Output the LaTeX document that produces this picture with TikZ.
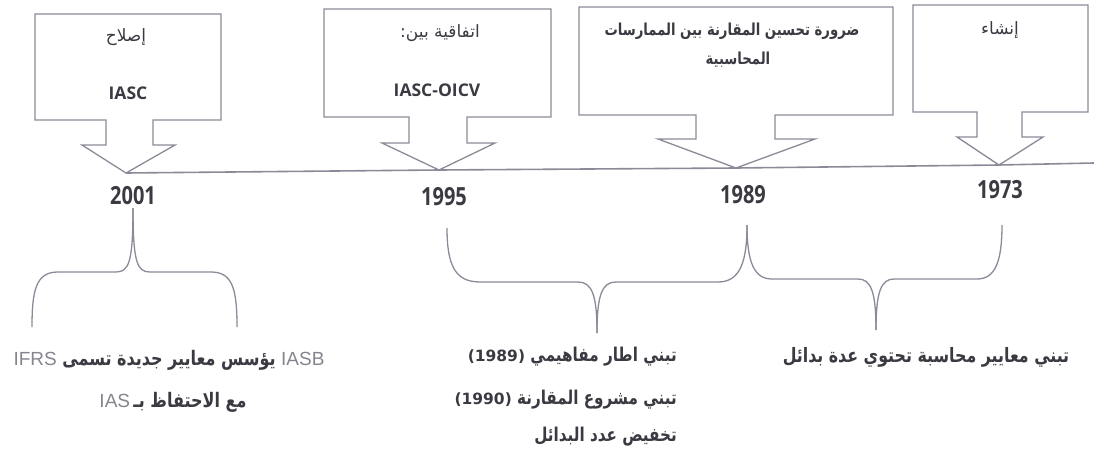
\documentclass[tikz,border=0pt]{standalone}
\usepackage{fontspec}
\setmainfont{Open Sans}
\TeXXeTstate=1
\newfontfamily\arabicfont[Script=Arabic]{DejaVu Sans}
\newfontfamily\arabicnarrow[Script=Arabic,FakeStretch=0.8]{DejaVu Sans}
\newfontfamily\yearfont[FakeStretch=0.8]{Open Sans}
\newfontfamily\latlight{Liberation Sans}
\definecolor{linecol}{HTML}{8A8A98}
\definecolor{txtcol}{HTML}{3A3A42}
\definecolor{lightcol}{HTML}{85858F}
\tikzset{
  boxline/.style={draw=linecol, line width=1.3pt, line join=miter},
  timeline/.style={draw=linecol, line width=1.6pt},
  brace/.style={draw=linecol, line width=1.3pt},
  artext/.style={text=txtcol, font=\arabicfont\fontsize{17}{19}\selectfont, inner sep=0pt},
  latbox/.style={text=txtcol, font=\bfseries\fontsize{17.5}{19}\selectfont, inner sep=0pt},
  yeartext/.style={text=txtcol, font=\yearfont\bfseries\fontsize{25}{28}\selectfont, inner sep=0pt},
  bracetext/.style={text=txtcol, font=\arabicnarrow\bfseries\fontsize{19}{21}\selectfont, inner sep=0pt}
}
\newcommand{\lat}[1]{{\latlight\mdseries\color{lightcol}\fontsize{19}{20}\selectfont #1}}
\newcommand{\yr}[1]{{\arabicfont\bfseries\fontsize{15.5}{18}\selectfont #1}}
\begin{document}
\begin{tikzpicture}[x=1pt,y=-1pt]
\useasboundingbox (0,0) rectangle (1094,452);
% arrow tips on the timeline
\coordinate (tipA) at (126,173);
\coordinate (tipB) at (439,170);
\coordinate (tipC) at (736,168);
\coordinate (tipD) at (999,165);
\coordinate (lineEnd) at (1094,163);
% timeline
\draw[timeline] (tipA) -- (tipB) -- (tipC) -- (tipD) -- (lineEnd);
% callout boxes
\draw[boxline] (35,14) -- (221,14) -- (221,120) -- (153,120) -- (153,145) -- (175,145) -- (tipA) -- (82,145) -- (106,145) -- (106,120) -- (35,120) -- cycle;
\draw[boxline] (324,9) -- (551,9) -- (551,117) -- (467,117) -- (467,143) -- (495,143) -- (tipB) -- (382,143) -- (409,143) -- (409,117) -- (324,117) -- cycle;
\draw[boxline] (579,7) -- (893,7) -- (893,115) -- (775,115) -- (775,139) -- (815,139) -- (tipC) -- (658,139) -- (696,139) -- (696,115) -- (579,115) -- cycle;
\draw[boxline] (913,5) -- (1088,5) -- (1088,112) -- (1022,112) -- (1022,137) -- (1043,137) -- (tipD) -- (957,137) -- (977,137) -- (977,112) -- (913,112) -- cycle;
% box texts
\node[artext] (a1) at (126,37) {\beginR إصلاح\endR};
\node[latbox] (a2) at (128,93) {IASC};
\node[artext] (b1) at (440,33) {\beginR اتفاقية بين:\endR};
\node[latbox] (b2) at (437,90) {IASC-OICV};
\node[artext,font=\arabicnarrow\bfseries\fontsize{16.5}{18}\selectfont] (c1) at (732,31) {\beginR ضرورة تحسين المقارنة بين الممارسات\endR};
\node[artext,font=\arabicnarrow\bfseries\fontsize{16.5}{18}\selectfont] (c2) at (738,60) {\beginR المحاسبية\endR};
\node[artext] (d1) at (1000,30) {\beginR إنشاء\endR};
% years
\node[yeartext] (y2001) at (133,196) {2001};
\node[yeartext] (y1995) at (444,197) {1995};
\node[yeartext] (y1989) at (743,195) {1989};
\node[yeartext] (y1973) at (1000,190) {1973};
% braces
\coordinate (bA) at (133,208);
\coordinate (bAl) at (32,327);
\coordinate (bAr) at (237,327);
\draw[brace] (bAl) .. controls (32,290) and (36,272) .. (58,272) -- (116,272) .. controls (129,272) and (133,262) .. (bA);
\draw[brace] (bAr) .. controls (237,290) and (233,272) .. (211,272) -- (150,272) .. controls (137,272) and (133,262) .. (bA);
\coordinate (bBl) at (447,228);
\coordinate (bBC) at (747,225);
\coordinate (bB) at (597,333);
\draw[brace] (bBl) .. controls (447,265) and (455,282) .. (480,282) -- (578,282) .. controls (592,282) and (597,295) .. (bB);
\draw[brace] (bBC) .. controls (747,262) and (740,282) .. (718,282) -- (616,282) .. controls (602,282) and (597,295) .. (bB);
\coordinate (bCr) at (1002,225);
\coordinate (bC) at (876,330);
\draw[brace] (bBC) .. controls (747,262) and (754,279) .. (772,279) -- (858,279) .. controls (871,279) and (876,292) .. (bC);
\draw[brace] (bCr) .. controls (1002,262) and (995,279) .. (977,279) -- (894,279) .. controls (881,279) and (876,292) .. (bC);
% brace texts
\node[bracetext,font=\arabicnarrow\bfseries\fontsize{20}{22}\selectfont] (t1a) at (169,360) {\lat{IFRS}\ \beginR يؤسس معايير جديدة تسمى\endR\ \lat{IASB}};
\node[bracetext,font=\arabicnarrow\bfseries\fontsize{20}{22}\selectfont] (t1b) at (173,402) {\lat{IAS}\,\beginR مع الاحتفاظ بـ\endR};
\node[bracetext,anchor=east] (t2a) at (677,357) {\yr{(1989)} \beginR تبني اطار مفاهيمي\endR};
\node[bracetext,anchor=east] (t2b) at (677,400) {\yr{(1990)} \beginR تبني مشروع المقارنة\endR};
\node[bracetext,anchor=east] (t2c) at (677,437) {\beginR تخفيض عدد البدائل\endR};
\node[bracetext,font=\arabicnarrow\bfseries\fontsize{19.8}{22}\selectfont] (t3) at (926,357) {\beginR تبني معايير محاسبة تحتوي عدة بدائل\endR};
\end{tikzpicture}
\end{document}
